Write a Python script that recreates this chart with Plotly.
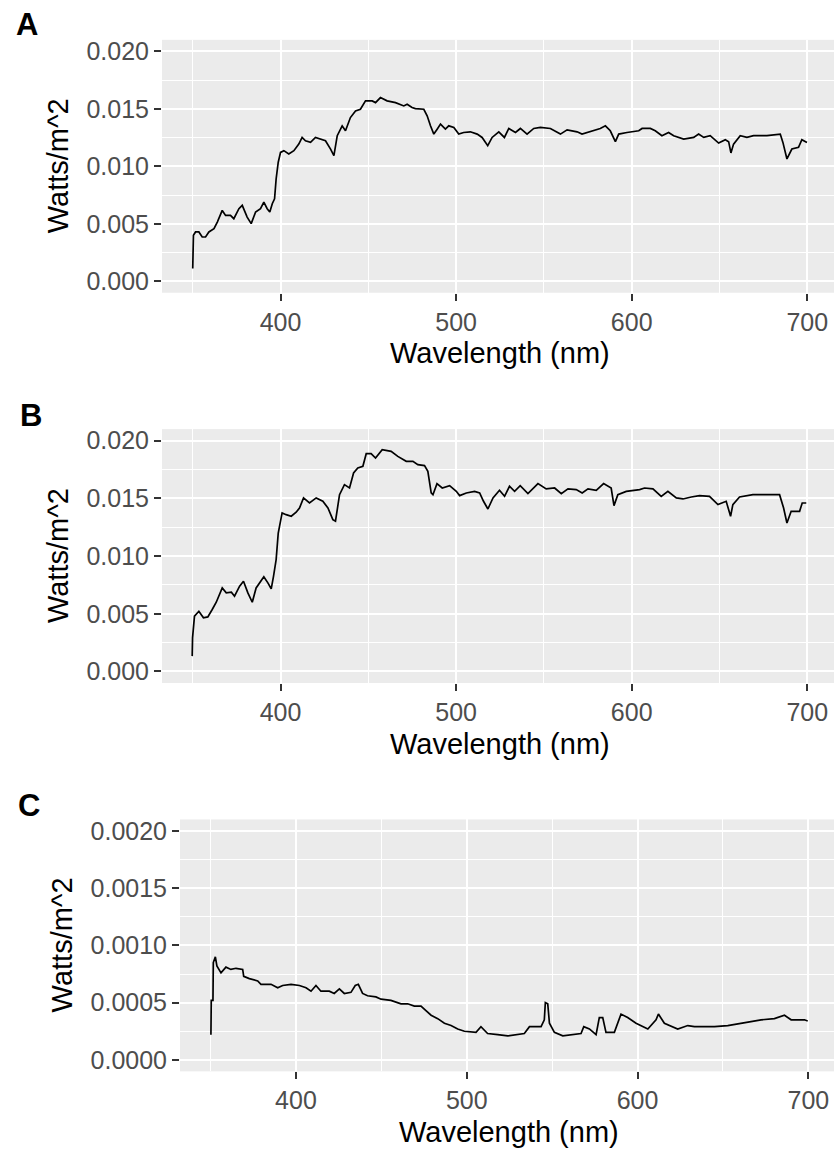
import plotly.graph_objects as go

# ---------------- data ----------------
wl_a = [350.0, 350.2, 350.4, 351.6, 353.5, 355.4, 357.3, 359.2, 362.1, 364.0, 366.8, 368.7,
        371.5, 373.4, 376.3, 378.2, 381.0, 383.3, 385.8, 388.6, 390.5, 392.4, 393.9, 395.3,
        396.6, 397.5, 398.7, 400.0, 401.9, 404.7, 407.6, 410.4, 412.3, 414.2, 417.1, 419.9,
        422.8, 425.6, 428.5, 430.4, 432.3, 435.1, 437.0, 439.8, 442.7, 445.5, 448.4, 452.2,
        454.1, 456.9, 460.7, 465.5, 470.2, 472.1, 474.9, 476.8, 481.6, 483.5, 485.4, 487.3,
        489.2, 491.1, 493.9, 495.8, 498.7, 501.5, 504.3, 508.1, 512.0, 514.8, 518.0, 520.5,
        524.3, 527.5, 530.0, 533.8, 536.6, 540.4, 544.2, 548.0, 553.7, 559.4, 563.2, 568.9,
        571.7, 578.3, 582.1, 585.0, 587.8, 590.7, 592.6, 597.3, 604.0, 605.9, 610.6, 613.4,
        617.2, 621.0, 623.9, 629.6, 635.3, 638.1, 641.0, 644.7, 649.5, 653.3, 655.2, 656.5,
        658.0, 661.8, 665.6, 669.4, 677.0, 684.6, 686.1, 688.4, 691.2, 695.0, 696.9, 699.8]
watts_a = [0.0011, 0.00255, 0.0040, 0.00429, 0.00429, 0.00385, 0.00385, 0.00429, 0.00457, 0.00515,
           0.00616, 0.00573, 0.00573, 0.00544, 0.00631, 0.00660, 0.00558, 0.00501, 0.00602, 0.00631,
           0.00688, 0.00631, 0.00602, 0.00674, 0.00717, 0.00890, 0.01035, 0.01121, 0.01136, 0.01107,
           0.01136, 0.01193, 0.01251, 0.01222, 0.01208, 0.01251, 0.01237, 0.01222, 0.01150, 0.01092,
           0.01266, 0.01352, 0.01309, 0.01424, 0.01482, 0.01496, 0.01569, 0.01569, 0.01554, 0.01598,
           0.01569, 0.01554, 0.01525, 0.01540, 0.01511, 0.01502, 0.01496, 0.01439, 0.01352, 0.01280,
           0.01323, 0.01367, 0.01323, 0.01352, 0.01338, 0.01280, 0.01294, 0.01300, 0.01280, 0.01251,
           0.01179, 0.01251, 0.01300, 0.01251, 0.01329, 0.01294, 0.01329, 0.01280, 0.01329, 0.01338,
           0.01329, 0.01280, 0.01317, 0.01300, 0.01280, 0.01309, 0.01329, 0.01352, 0.01309, 0.01214,
           0.01280, 0.01294, 0.01309, 0.01329, 0.01329, 0.01309, 0.01266, 0.01294, 0.01266, 0.01237,
           0.01251, 0.01280, 0.01251, 0.01266, 0.01202, 0.01231, 0.01214, 0.01116, 0.01193, 0.01266,
           0.01251, 0.01266, 0.01266, 0.01280, 0.01208, 0.01064, 0.01150, 0.01165, 0.01231, 0.01208]

wl_b = [349.7, 349.9, 351.0, 353.5, 356.1, 358.6, 361.1, 363.4, 366.8, 369.1, 372.0, 373.8,
        376.7, 378.9, 381.4, 383.9, 386.1, 388.0, 390.5, 392.8, 394.7, 396.0, 397.5, 398.7,
        400.9, 403.2, 406.1, 408.9, 410.8, 413.1, 416.5, 420.3, 424.1, 427.0, 429.8, 431.3,
        433.6, 436.4, 439.3, 441.6, 444.0, 446.9, 448.8, 451.6, 454.1, 457.9, 463.0, 466.8,
        469.7, 471.6, 475.4, 478.2, 482.0, 483.9, 485.8, 486.8, 489.1, 492.1, 496.3, 500.1,
        502.0, 505.8, 510.5, 513.4, 515.6, 518.1, 521.0, 524.7, 527.6, 530.4, 533.3, 536.5,
        540.9, 546.6, 551.3, 556.1, 559.9, 563.7, 568.4, 571.8, 575.1, 579.8, 584.0, 588.3,
        589.9, 592.1, 596.9, 604.5, 607.3, 612.1, 616.8, 620.6, 625.4, 629.2, 633.9, 638.6,
        644.3, 649.1, 653.8, 656.3, 657.6, 661.4, 669.0, 684.2, 686.5, 688.4, 690.8, 695.6,
        697.1, 699.4]
watts_b = [0.00133, 0.00291, 0.00479, 0.00522, 0.00465, 0.00473, 0.00537, 0.00600, 0.00724, 0.00681,
           0.00687, 0.00652, 0.00739, 0.00782, 0.00681, 0.00600, 0.00724, 0.00762, 0.00820, 0.00768,
           0.00716, 0.00825, 0.00970, 0.01200, 0.01374, 0.01359, 0.01345, 0.01380, 0.01417, 0.01504,
           0.01460, 0.01504, 0.01475, 0.01417, 0.01316, 0.01302, 0.01532, 0.01619, 0.01590, 0.01720,
           0.01763, 0.01778, 0.01887, 0.01887, 0.01850, 0.01922, 0.01908, 0.01864, 0.01840, 0.01821,
           0.01821, 0.01792, 0.01784, 0.01735, 0.01547, 0.01532, 0.01628, 0.01590, 0.01610, 0.01561,
           0.01524, 0.01547, 0.01561, 0.01547, 0.01475, 0.01408, 0.01504, 0.01570, 0.01518, 0.01605,
           0.01561, 0.01610, 0.01541, 0.01628, 0.01582, 0.01590, 0.01541, 0.01582, 0.01576, 0.01547,
           0.01582, 0.01570, 0.01628, 0.01590, 0.01437, 0.01532, 0.01561, 0.01576, 0.01590, 0.01582,
           0.01518, 0.01561, 0.01504, 0.01495, 0.01512, 0.01524, 0.01518, 0.01446, 0.01475, 0.01345,
           0.01446, 0.01512, 0.01532, 0.01532, 0.01417, 0.01287, 0.01388, 0.01388, 0.01460, 0.01460]

wl_c = [350.2, 350.4, 351.4, 351.6, 352.8, 353.7, 356.1, 359.0, 361.9, 364.9, 368.8, 369.4,
        372.7, 377.6, 379.5, 385.4, 389.3, 392.2, 397.1, 402.0, 405.9, 408.8, 411.7, 414.6,
        419.5, 422.4, 425.4, 428.3, 432.2, 434.7, 436.5, 439.0, 441.9, 446.8, 449.8, 455.6,
        461.5, 465.4, 469.3, 473.2, 476.1, 479.1, 483.0, 486.9, 490.8, 494.7, 498.6, 505.4,
        508.3, 512.2, 518.1, 524.0, 533.7, 536.7, 543.5, 545.4, 546.0, 547.4, 548.4, 551.3,
        556.2, 562.0, 566.9, 568.5, 571.8, 575.7, 577.6, 579.6, 581.5, 586.4, 590.3, 594.2,
        599.1, 606.0, 610.8, 612.2, 615.7, 623.5, 629.4, 633.3, 645.0, 652.8, 660.6, 672.3,
        680.1, 686.0, 689.9, 697.7, 699.6]
watts_c = [0.00022, 0.00052, 0.00052, 0.00085, 0.00090, 0.00082, 0.00076, 0.00081, 0.00079, 0.00080,
           0.00079, 0.00073, 0.00071, 0.00069, 0.00066, 0.00066, 0.00063, 0.00065, 0.00066, 0.00065,
           0.00063, 0.00060, 0.00065, 0.00060, 0.00060, 0.00058, 0.00062, 0.00058, 0.00059, 0.00065,
           0.00066, 0.00058, 0.00056, 0.00055, 0.00053, 0.00052, 0.00049, 0.00049, 0.00047, 0.00047,
           0.00043, 0.00039, 0.00036, 0.00032, 0.00030, 0.00027, 0.00025, 0.00024, 0.00029, 0.00023,
           0.00022, 0.00021, 0.00023, 0.00029, 0.00029, 0.00035, 0.00050, 0.00049, 0.00032, 0.00024,
           0.00021, 0.00022, 0.00023, 0.00029, 0.00027, 0.00022, 0.00037, 0.00037, 0.00024, 0.00024,
           0.00040, 0.00037, 0.00032, 0.00027, 0.00035, 0.00040, 0.00032, 0.00027, 0.00030, 0.00029,
           0.00029, 0.00030, 0.00032, 0.00035, 0.00036, 0.00039, 0.00035, 0.00035, 0.00034]

x_ticks = [400, 500, 600, 700]
y_ticks_ab = [0.0, 0.005, 0.010, 0.015, 0.020]
y_ticks_c = [0.0, 0.0005, 0.0010, 0.0015, 0.0020]
panel_labels = ["A", "B", "C"]
x_title = "Wavelength (nm)"
y_title = "Watts/m^2"

# ---------------- layout ----------------
W, H = 834, 1151
FONT = "Liberation Sans, Arial, sans-serif"
GRID_BG = "#EBEBEB"

panels = [
    dict(left=162, top=37, bottom=291, right_full=838, xr=[332.5, 715.2], yr=[-0.001, 0.021],
         yt=y_ticks_ab, fmt="%.3f", xd=wl_a, yd=watts_a, ytx=58),
    dict(left=162, top=428, bottom=683, right_full=838, xr=[332.5, 715.2], yr=[-0.001, 0.021],
         yt=y_ticks_ab, fmt="%.3f", xd=wl_b, yd=watts_b, ytx=58),
    dict(left=180, top=820, bottom=1073, right_full=837, xr=[332.1, 715.0], yr=[-0.0001, 0.0021],
         yt=y_ticks_c, fmt="%.4f", xd=wl_c, yd=watts_c, ytx=62),
]
label_pos = [(27, 22), (31, 414), (29, 806)]

fig = go.Figure()
annotations = []
for i, p in enumerate(panels):
    n = "" if i == 0 else str(i + 1)
    fig.add_trace(go.Scatter(x=p["xd"], y=p["yd"], mode="lines",
                             line=dict(color="black", width=1.7),
                             xaxis="x" + n, yaxis="y" + n, showlegend=False))
    xd = [p["left"] / W, 1.0]
    yd = [1 - p["bottom"] / H, 1 - p["top"] / H]
    common = dict(showgrid=True, gridcolor="white", gridwidth=2, zeroline=False,
                  showline=False, ticks="outside", ticklen=7, tickwidth=1.5,
                  tickcolor="#333333",
                  tickfont=dict(family=FONT, size=25, color="#4D4D4D"))
    fig.update_layout(**{
        "xaxis" + n: dict(domain=xd, range=p["xr"], anchor="y" + n,
                          tickvals=x_ticks, ticktext=[str(v) for v in x_ticks],
                          minor=dict(dtick=50, tick0=350, showgrid=True,
                                     gridcolor="white", gridwidth=1, ticks=""),
                          **common),
        "yaxis" + n: dict(domain=yd, range=p["yr"], anchor="x" + n,
                          tickvals=p["yt"], ticktext=[p["fmt"] % v for v in p["yt"]],
                          minor=dict(dtick=(p["yt"][1] - p["yt"][0]) / 2, tick0=0,
                                     showgrid=True, gridcolor="white", gridwidth=1,
                                     ticks=""),
                          **common),
    })
    cx = (p["left"] + p["right_full"]) / 2 / W
    annotations.append(dict(text=x_title, xref="paper", yref="paper", x=cx,
                            y=1 - (p["bottom"] + 61) / H, xanchor="center",
                            yanchor="middle", showarrow=False,
                            font=dict(family=FONT, size=29, color="black")))
    annotations.append(dict(text=y_title, xref="paper", yref="paper", x=p["ytx"] / W,
                            y=1 - (p["top"] + p["bottom"]) / 2 / H, xanchor="center",
                            yanchor="middle", textangle=-90, showarrow=False,
                            font=dict(family=FONT, size=29, color="black")))
    lx, ly = label_pos[i]
    annotations.append(dict(text="<b>%s</b>" % panel_labels[i], xref="paper", yref="paper",
                            x=lx / W, y=1 - ly / H, xanchor="center", yanchor="middle",
                            showarrow=False,
                            font=dict(family=FONT, size=31, color="black")))

fig.update_layout(width=W, height=H, margin=dict(l=0, r=0, t=0, b=0),
                  paper_bgcolor="white", plot_bgcolor=GRID_BG,
                  annotations=annotations, showlegend=False)

fig.write_html("out.html")
